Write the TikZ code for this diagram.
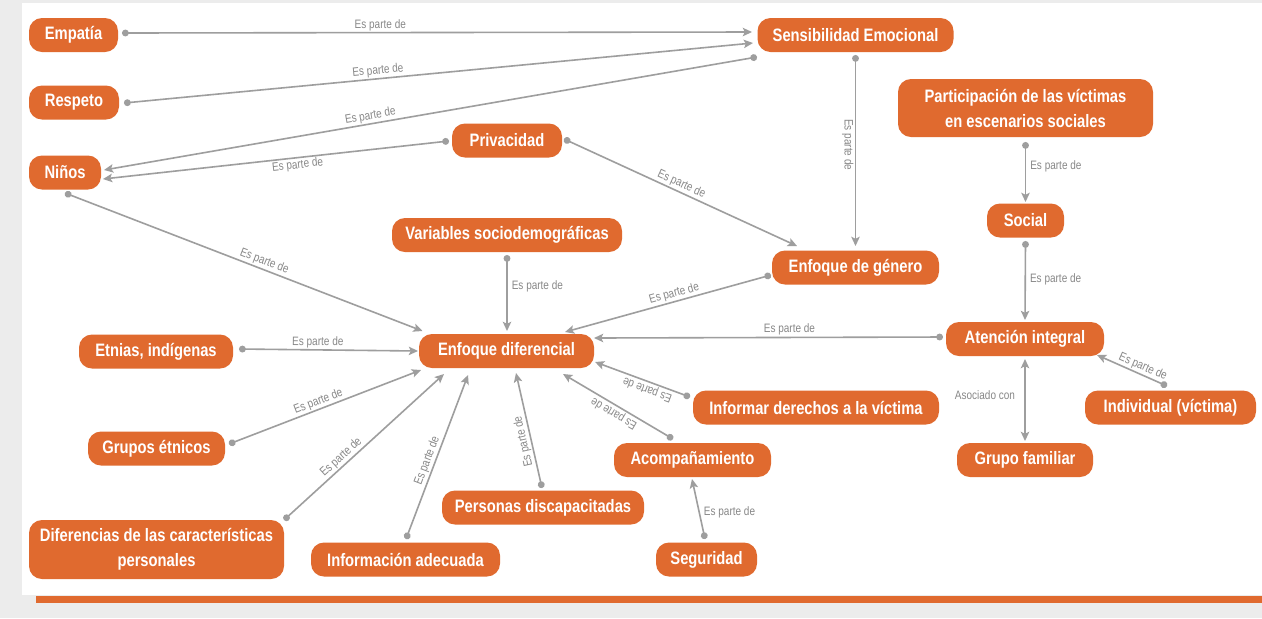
\documentclass[tikz,border=0pt]{standalone}
\usepackage{fontspec}
\IfFontExistsTF{Liberation Sans Narrow}
  {\setmainfont{Liberation Sans Narrow}}
  {\setmainfont{Liberation Sans}[FakeStretch=0.82]}
\usetikzlibrary{arrows.meta,calc}
\definecolor{boxorange}{HTML}{E06A2F}
\definecolor{linkgray}{HTML}{9E9E9E}
\definecolor{labelgray}{HTML}{888888}
\definecolor{pagegray}{HTML}{ECECEC}

\begin{document}
\begin{tikzpicture}[x=0.5pt,y=-0.5pt,
  concept/.style={fill=boxorange, text=white, rounded corners=6.5pt,
    font=\bfseries\fontsize{9}{12.5}\selectfont, minimum height=17pt,
    inner xsep=4pt, inner ysep=2pt, align=center},
  link/.style={draw=linkgray, line width=0.8pt,
    arrows={Circle[length=3.4pt]-Stealth[length=4.6pt,width=4.2pt,inset=1pt]}},
  both/.style={draw=linkgray, line width=0.8pt,
    arrows={Stealth[length=4.6pt,width=4.2pt,inset=1pt]-Stealth[length=4.6pt,width=4.2pt,inset=1pt]}},
  lbl/.style={text=labelgray, font=\fontsize{6.1}{7}\selectfont, inner sep=0.6pt},
  side/.style={inner xsep=2pt},
]
% page, panel and bottom rule
\fill[pagegray] (0,0) rectangle (1262,618);
\fill[white] (22,3) rectangle (1262,595);
\fill[boxorange] (36,596) rectangle (1262,603);
\useasboundingbox (0,0) rectangle (1262,618);

% concepts
\node[concept, minimum width=44.5pt] (emp) at (73.5,35) {Empatía};
\node[concept, minimum width=45pt] (res) at (74,102.5) {Respeto};
\node[concept, minimum width=36pt] (nin) at (65,172.5) {Niños};
\node[concept, minimum width=98pt] (sen) at (855.5,35) {Sensibilidad Emocional};
\node[concept, minimum width=55pt] (pri) at (507,140.5) {Privacidad};
\node[concept, minimum width=127.5pt, minimum height=29pt] (par) at (1025.5,108)
  {Participación de las víctimas\\en escenarios sociales};
\node[concept, minimum width=38.5pt] (soc) at (1025.5,220.5) {Social};
\node[concept, minimum width=115pt] (var) at (507,235) {Variables sociodemográficas};
\node[concept, minimum width=83.5pt] (gen) at (855.5,267.5) {Enfoque de género};
\node[concept, minimum width=87.5pt] (dif) at (506.5,351) {Enfoque diferencial};
\node[concept, minimum width=79pt] (ate) at (1025,339) {Atención integral};
\node[concept, minimum width=77pt] (etn) at (156,351.5) {Etnias, indígenas};
\node[concept, minimum width=123pt] (inf) at (816,407.5) {Informar derechos a la víctima};
\node[concept, minimum width=85.5pt] (ind) at (1170.5,407.5) {Individual (víctima)};
\node[concept, minimum width=68.5pt] (gru) at (156.5,448.5) {Grupos étnicos};
\node[concept, minimum width=78.5pt] (aco) at (692.5,460) {Acompañamiento};
\node[concept, minimum width=68pt] (fam) at (1025,460) {Grupo familiar};
\node[concept, minimum width=127.5pt, minimum height=29.5pt] (car) at (156.5,549.5)
  {Diferencias de las características\\personales};
\node[concept, minimum width=94.5pt] (ina) at (405.5,559.5) {Información adecuada};
\node[concept, minimum width=101pt] (per) at (543,507.5) {Personas discapacitadas};
\node[concept, minimum width=50.5pt] (seg) at (706.5,559.5) {Seguridad};

% relations
\draw[link] ($(emp.center)+(48.5,-2)$) -- node[lbl, above, pos=0.41] {Es parte de} ($(sen.center)+(-103.5,-3)$);
\draw[link] ($(res.center)+(50,0.5)$) -- node[lbl, sloped, above, pos=0.405] {Es parte de} ($(sen.center)+(-102.5,8)$);
\draw[link] ($(sen.center)+(-98.5,22)$) -- node[lbl, sloped, above, pos=0.59] {Es parte de} ($(nin.center)+(39,-2.5)$);
\draw[link] ($(pri.center)+(-58,0.5)$) -- node[lbl, sloped, below, pos=0.44] {Es parte de} ($(nin.center)+(38,6.5)$);
\draw[link] ($(nin.center)+(0,20.5)$) -- node[lbl, sloped, above, pos=0.55] {Es parte de} ($(dif.center)+(-84,-20)$);
\draw[link] ($(pri.center)+(57,-1.5)$) -- node[lbl, sloped, above, pos=0.49] {Es parte de} ($(gen.center)+(-58.5,-21.5)$);
\draw[link] ($(sen.center)+(0,20)$) -- node[lbl, side, rotate=-90, anchor=north, pos=0.47] {Es parte de} ($(gen.center)+(0,-21.5)$);
\draw[link] ($(par.center)+(0,34)$) -- node[lbl, side, right, pos=0.4] {Es parte de} ($(soc.center)+(0,-18.5)$);
\draw[link] ($(soc.center)+(0,20.5)$) -- node[lbl, side, right, pos=0.48] {Es parte de} ($(ate.center)+(0,-19)$);
\draw[link] ($(var.center)+(0,20)$) -- node[lbl, side, right, pos=0.41] {Es parte de} ($(dif.center)+(0.5,-20)$);
\draw[link] ($(gen.center)+(-84.5,7.5)$) -- node[lbl, sloped, above, pos=0.46] {Es parte de} ($(dif.center)+(58.5,-19)$);
\draw[link] ($(ate.center)+(-82,-2)$) -- node[lbl, above, pos=0.44] {Es parte de} ($(dif.center)+(87.5,-13)$);
\draw[link] ($(etn.center)+(83,-2.5)$) -- node[lbl, sloped, above, pos=0.44] {Es parte de} ($(dif.center)+(-88.5,0)$);
\draw[link] ($(gru.center)+(72.5,-4.5)$) -- node[lbl, sloped, above, pos=0.48] {Es parte de} ($(dif.center)+(-85.5,19)$);
\draw[link] ($(car.center)+(127.5,-29.5)$) -- node[lbl, sloped, above, pos=0.39] {Es parte de} ($(dif.center)+(-62.5,23)$);
\draw[link] ($(ina.center)+(0.5,-20.5)$) -- node[lbl, sloped, above, pos=0.46] {Es parte de} ($(dif.center)+(-38.5,24)$);
\draw[link] ($(per.center)+(-1,-19.5)$) -- node[lbl, sloped, allow upside down, above, pos=0.42] {Es parte de} ($(dif.center)+(9.5,22)$);
\draw[link] ($(inf.center)+(-126,-10.5)$) -- node[lbl, sloped, allow upside down, above, pos=0.42] {Es parte de} ($(dif.center)+(88.5,11)$);
\draw[link] ($(aco.center)+(-19.5,-21)$) -- node[lbl, sloped, allow upside down, above, pos=0.5] {Es parte de} ($(dif.center)+(56.5,23)$);
\draw[link] ($(seg.center)+(-1.5,-20.5)$) -- node[lbl, side, right, pos=0.45] {Es parte de} ($(aco.center)+(-0.5,19)$);
\draw[both] ($(ate.center)+(0,20)$) -- node[lbl, left, pos=0.44, xshift=-4pt] {Asociado con} ($(fam.center)+(0,-19)$);
\draw[link] ($(ind.center)+(-3.5,-21.5)$) -- node[lbl, sloped, above, pos=0.39] {Es parte de} ($(ate.center)+(72,16)$);
\end{tikzpicture}
\end{document}
